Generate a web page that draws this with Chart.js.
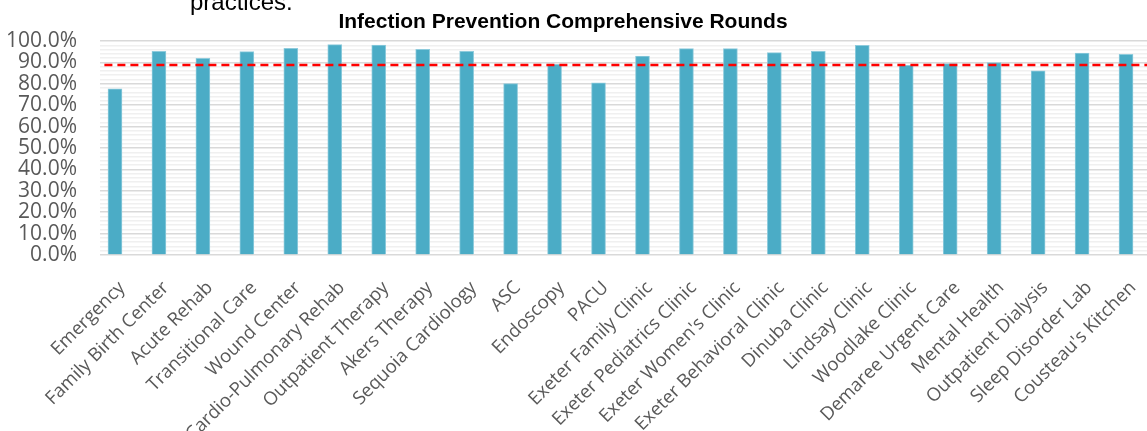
<!DOCTYPE html>
<html>
<head>
<meta charset="utf-8">
<script src="https://cdn.jsdelivr.net/npm/chart.js@4"></script>
<style>
  html, body { margin: 0; padding: 0; background: #fff; overflow: hidden; }
  #wrap { position: relative; width: 1147px; height: 431px; overflow: hidden; }
  #box { position: absolute; left: 0; top: 0; width: 1160px; height: 431px; }
  .note { position: absolute; left: 190px; top: -10px; font: 24px "Liberation Sans", Arial, sans-serif; color: #000; white-space: nowrap; line-height: 1; }
  .title { position: absolute; left: 263px; top: 10px; width: 600px; text-align: center; font: bold 21px "Liberation Sans", Arial, sans-serif; color: #000; line-height: 1; }
</style>
</head>
<body>
<div id="wrap">
  <div id="box"><canvas id="rounds"></canvas></div>
  <div class="note">practices.</div>
  <div class="title">Infection Prevention Comprehensive Rounds</div>
</div>
<script>
const departments = ["Emergency", "Family Birth Center", "Acute Rehab", "Transitional Care", "Wound Center",
  "Cardio-Pulmonary Rehab", "Outpatient Therapy", "Akers Therapy", "Sequoia Cardiology", "ASC", "Endoscopy",
  "PACU", "Exeter Family Clinic", "Exeter Pediatrics Clinic", "Exeter Women's Clinic", "Exeter Behavioral Clinic",
  "Dinuba Clinic", "Lindsay Clinic", "Woodlake Clinic", "Demaree Urgent Care", "Mental Health",
  "Outpatient Dialysis", "Sleep Disorder Lab", "Cousteau's Kitchen"];
const compliance = [77.7, 95.2, 91.9, 95.0, 96.6, 98.3, 98.1, 96.1, 95.2, 80.1, 89.1, 80.5,
  93.0, 96.4, 96.4, 94.6, 95.2, 98.0, 88.6, 89.4, 89.9, 86.1, 94.4, 93.8];
const goal = 88.8;
const yMax = 100;
const yStep = 2;      // light stripes every 2%, labelled lines every 10%

// goal line runs on its own hidden linear axis so it can start left of the first bar
const goalLine = [{ x: -0.4, y: goal }, { x: departments.length - 0.5, y: goal }];

const ctx = document.getElementById("rounds").getContext("2d");
new Chart(ctx, {
  type: "bar",
  data: {
    labels: departments,
    datasets: [
      {
        label: "Compliance",
        data: compliance,
        backgroundColor: "#4bacc6",
        borderColor: "#8ecbdc",
        borderWidth: { left: 1, right: 1, top: 1, bottom: 0 },
        barThickness: 14,
        xAxisID: "x",
        order: 2
      },
      {
        type: "line",
        label: "Goal",
        data: goalLine,
        xAxisID: "x2",
        borderColor: "#ff0000",
        borderWidth: 2.5,
        borderDash: [8, 5],
        pointRadius: 0,
        fill: false,
        order: 1
      }
    ]
  },
  options: {
    responsive: true,
    maintainAspectRatio: false,
    animation: false,
    layout: { padding: { left: 8, right: 5, top: 41, bottom: 0 } },
    plugins: {
      legend: { display: false },
      title: { display: false },
      tooltip: { enabled: false }
    },
    scales: {
      x: {
        grid: { display: false },
        border: { display: false },
        ticks: {
          autoSkip: false,
          maxRotation: 45,
          minRotation: 45,
          padding: 14,
          color: "#595959",
          font: { family: "'Open Sans'", size: 18.5 }
        },
        afterFit: (scale) => {
          scale.height = 176;
          scale.paddingLeft = 0;
          scale.paddingRight = 0;
        }
      },
      x2: {
        type: "linear",
        display: false,
        offset: false,
        grid: { offset: false },
        min: -0.5,
        max: departments.length - 0.5
      },
      y: {
        min: 0,
        max: yMax,
        border: { display: false },
        grid: {
          drawTicks: false,
          color: (c) => (c.tick && c.tick.value % 10 === 0) ? "#d9d9d9" : "#f0f0f0",
          lineWidth: 1.5
        },
        ticks: {
          stepSize: yStep,
          autoSkip: false,
          padding: 23,
          color: "#595959",
          font: { family: "'Open Sans'", size: 21 },
          callback: (v) => v % 10 === 0 ? v.toFixed(1) + "%" : ""
        },
        afterFit: (scale) => { scale.width = 92; }
      }
    }
  }
});
</script>
</body>
</html>
